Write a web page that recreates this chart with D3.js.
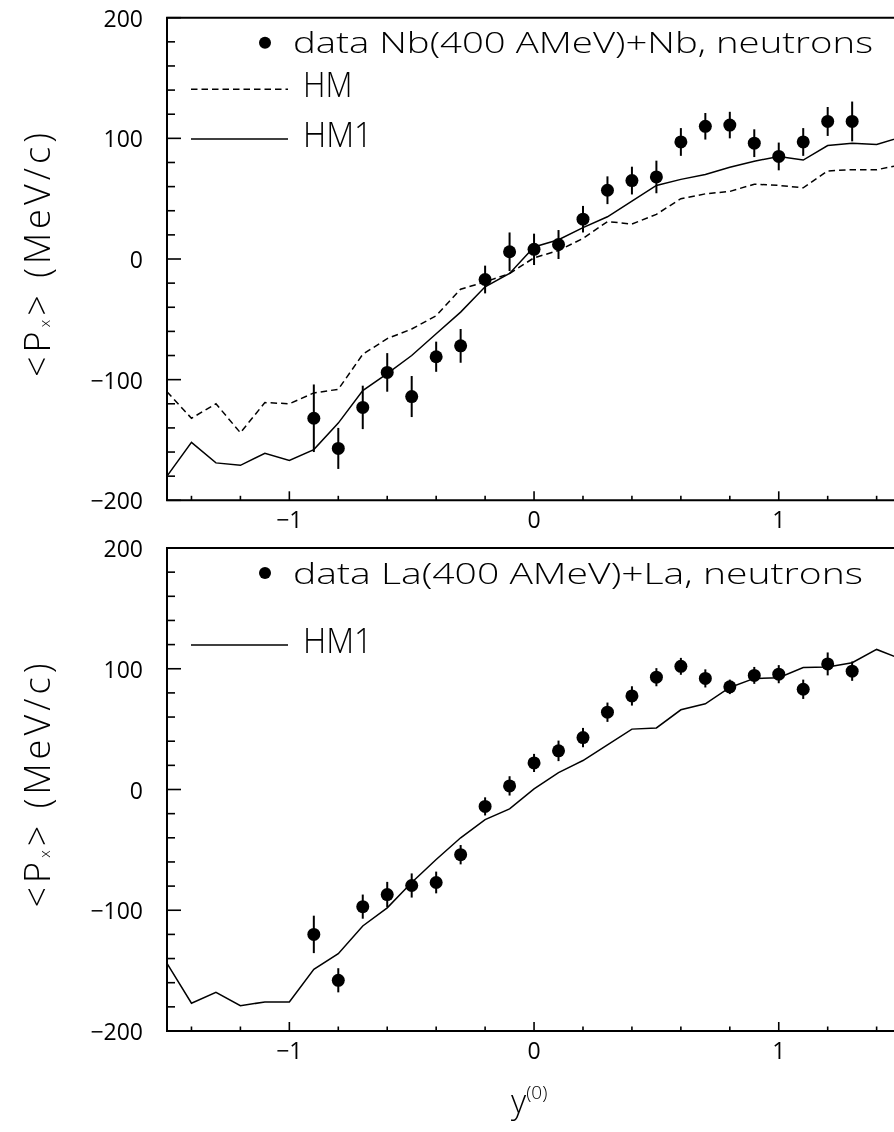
<!DOCTYPE html>
<html>
<head>
<meta charset="utf-8">
<script src="https://cdn.jsdelivr.net/npm/d3@7"></script>
<style>
  html, body { margin: 0; padding: 0; background: #fff; }
  svg { display: block; filter: grayscale(1); }
  text { font-family: "Open Sans", "DejaVu Sans", sans-serif; font-weight: 300; fill: #000; }
  text.tick { font-weight: 400; }
</style>
</head>
<body>
<svg id="chart" width="894" height="1132"></svg>
<script>
// Rapidity bins of the measured points
const dataRapidity = [-0.9, -0.8, -0.7, -0.6, -0.5, -0.4, -0.3, -0.2, -0.1, 0.0,
                      0.1, 0.2, 0.3, 0.4, 0.5, 0.6, 0.7, 0.8, 0.9, 1.0, 1.1, 1.2, 1.3];
// Rapidity grid of the model curves
const modelRapidity = [-1.5, -1.4, -1.3, -1.2, -1.1, -1.0, -0.9, -0.8, -0.7, -0.6, -0.5, -0.4,
                       -0.3, -0.2, -0.1, 0.0, 0.1, 0.2, 0.3, 0.4, 0.5, 0.6, 0.7, 0.8, 0.9,
                       1.0, 1.1, 1.2, 1.3, 1.4, 1.5];

// Nb(400 AMeV)+Nb, neutrons: <Px> and errors (MeV/c)
const nbData = [-132, -157, -123, -94, -114, -81, -72, -17, 6, 8,
                12, 33, 57, 65, 68, 97, 110, 111, 96, 85, 97, 114, 114];
const nbErr  = [28, 17, 18, 16, 17, 12.5, 14, 11.5, 16, 13,
                12, 11, 11.5, 11.5, 13.5, 11.5, 11, 11, 11.5, 11.5, 11.5, 12, 16.5];
const nbHM   = [-110, -132, -120, -144, -119, -120, -111, -108, -79, -66, -58, -47,
                -25, -19, -12, 1, 7, 17, 31, 29, 37, 50, 54, 56, 62,
                61, 59, 73, 74, 74, 78];
const nbHM1  = [-180, -152, -169, -171, -161, -167, -158, -136, -109, -95, -80, -62,
                -44, -23, -12, 10, 16, 26, 35, 48, 61, 66, 70, 76, 81,
                85, 82, 94, 96, 95, 101];

// La(400 AMeV)+La, neutrons: <Px> and errors (MeV/c)
const laData = [-120, -158, -97, -87, -79.5, -77, -54, -14, 3, 22,
                32, 43, 64, 77.5, 93, 102, 92, 85, 94.5, 95.5, 83, 104, 98];
const laErr  = [15.5, 10, 10, 10.5, 10, 9, 8, 7.5, 8, 7.5,
                8.5, 8, 8, 8, 7.5, 7, 7.5, 6, 7, 7.5, 8, 9.5, 8];
const laHM1  = [-144, -177, -168, -179, -176, -176, -149, -136, -113, -98, -77, -58,
                -40, -25, -16, 0.5, 14, 24, 37, 50, 51, 66, 71, 84.5, 92,
                92.5, 101, 101.5, 105, 116, 108];

// Axis ticks
const xMajorTicks = [-1, 0, 1];
const xMinorTicks = [-1.4, -1.2, -0.8, -0.6, -0.4, -0.2, 0.2, 0.4, 0.6, 0.8, 1.2, 1.4];
const yMajorTicks = [-200, -100, 0, 100, 200];
const yMinorTicks = [-180, -160, -140, -120, -80, -60, -40, -20, 20, 40, 60, 80, 120, 140, 160, 180];

const svg = d3.select("#chart");
const label = d => d < 0 ? "\u2212" + Math.abs(d) : String(d);

const x = d3.scaleLinear().domain([-1.5, 1.5]).range([167, 167 + 3 * 244.7]);

function panel(cfg) {
  const y = d3.scaleLinear().domain([-200, 200]).range([cfg.bottom, cfg.top]);
  const g = svg.append("g");
  const L = x.range()[0];

  // frame: top, left, bottom
  g.append("path")
    .attr("d", `M${x.range()[1] + 20},${y(200)}H${L}V${y(-200)}H${x.range()[1] + 20}`)
    .attr("fill", "none").attr("stroke", "#000").attr("stroke-width", 2);

  // y ticks (inward)
  g.selectAll(".ymaj").data(yMajorTicks).join("line")
    .attr("x1", L).attr("x2", L + 14).attr("y1", d => y(d)).attr("y2", d => y(d))
    .attr("stroke", "#000").attr("stroke-width", 1.6);
  g.selectAll(".ymin").data(yMinorTicks).join("line")
    .attr("x1", L).attr("x2", L + 8).attr("y1", d => y(d)).attr("y2", d => y(d))
    .attr("stroke", "#000").attr("stroke-width", 1.6);
  g.selectAll(".ylab").data(yMajorTicks).join("text")
    .attr("class", "tick")
    .attr("x", 143).attr("y", d => y(d) + 9)
    .attr("text-anchor", "end").attr("font-size", 23)
    .text(label);

  // x ticks (inward)
  g.selectAll(".xmaj").data(xMajorTicks).join("line")
    .attr("x1", d => x(d)).attr("x2", d => x(d)).attr("y1", y(-200)).attr("y2", y(-200) - 9)
    .attr("stroke", "#000").attr("stroke-width", 1.6);
  g.selectAll(".xmin").data(xMinorTicks).join("line")
    .attr("x1", d => x(d)).attr("x2", d => x(d)).attr("y1", y(-200)).attr("y2", y(-200) - 4.5)
    .attr("stroke", "#000").attr("stroke-width", 1.6);
  g.selectAll(".xlab").data(xMajorTicks).join("text")
    .attr("class", "tick")
    .attr("x", d => x(d)).attr("y", y(-200) + 28)
    .attr("text-anchor", "middle").attr("font-size", 23)
    .text(label);

  const line = d3.line().x(d => x(d[0])).y(d => y(d[1]));

  // model curves
  cfg.curves.forEach(c => {
    g.append("path")
      .datum(modelRapidity.map((r, i) => [r, c.values[i]]))
      .attr("d", line)
      .attr("fill", "none").attr("stroke", "#000").attr("stroke-width", 1.5)
      .attr("stroke-dasharray", c.dash || null);
  });

  // data points with error bars
  const pts = dataRapidity.map((r, i) => ({ r, v: cfg.data[i], e: cfg.err[i] }));
  g.selectAll(".err").data(pts).join("line")
    .attr("x1", d => x(d.r)).attr("x2", d => x(d.r))
    .attr("y1", d => y(d.v - d.e)).attr("y2", d => y(d.v + d.e))
    .attr("stroke", "#000").attr("stroke-width", 2);
  g.selectAll(".pt").data(pts).join("circle")
    .attr("cx", d => x(d.r)).attr("cy", d => y(d.v)).attr("r", 6.5)
    .attr("fill", "#000");

  // legend
  const ly = cfg.top;
  g.append("circle").attr("cx", 265).attr("cy", ly + 25).attr("r", 6).attr("fill", "#000");
  g.append("text").attr("x", 293).attr("y", ly + 35.5)
    .attr("font-size", 30).attr("textLength", cfg.titleWidth).attr("lengthAdjust", "spacingAndGlyphs")
    .text(cfg.title);
  cfg.legend.forEach(l => {
    g.append("line").attr("x1", 191).attr("x2", 288)
      .attr("y1", ly + l.dy).attr("y2", ly + l.dy)
      .attr("stroke", "#000").attr("stroke-width", 1.5)
      .attr("stroke-dasharray", l.dash || null);
    g.append("text")
      .attr("transform", `translate(303,${ly + l.dy + 7.5}) scale(${l.sx},1)`)
      .attr("font-size", 34)
      .text(l.label);
  });

  // y-axis title
  const yt = g.append("text")
    .attr("transform", `translate(50,${(cfg.top + cfg.bottom) / 2 - 4}) rotate(-90)`)
    .attr("text-anchor", "middle").attr("font-size", 36)
    .attr("textLength", 244).attr("lengthAdjust", "spacing");
  yt.append("tspan").text("<P");
  yt.append("tspan").attr("font-size", 15).text("x");
  yt.append("tspan").text(">  (MeV/c)");
}

panel({
  top: 17.7, bottom: 500.3,
  data: nbData, err: nbErr,
  curves: [{ values: nbHM, dash: "6.5,4" }, { values: nbHM1 }],
  title: "data Nb(400 AMeV)+Nb, neutrons", titleWidth: 580,
  legend: [{ label: "HM", dy: 71.6, dash: "6.5,4", sx: 0.92 }, { label: "HM1", dy: 121.3, sx: 0.95 }]
});

panel({
  top: 548, bottom: 1031,
  data: laData, err: laErr,
  curves: [{ values: laHM1 }],
  title: "data La(400 AMeV)+La, neutrons", titleWidth: 570,
  legend: [{ label: "HM1", dy: 97, sx: 0.95 }]
});

// x-axis title
const xt = svg.append("text").attr("x", 511).attr("y", 1113).attr("font-size", 33);
xt.append("tspan").text("y");
xt.append("tspan").attr("font-size", 19).attr("dy", -14).text("(0)");
</script>
</body>
</html>
